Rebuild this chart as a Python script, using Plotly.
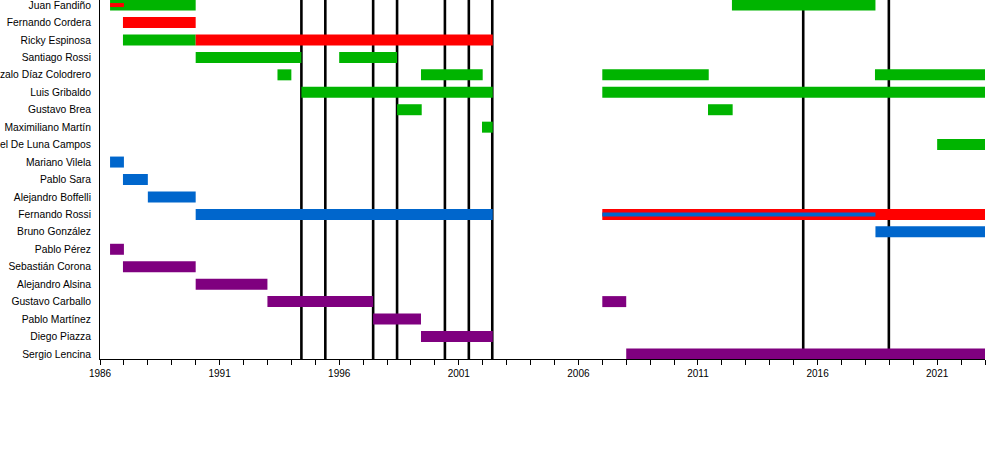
import plotly.graph_objects as go

members = [
    "Juan Fandiño", "Fernando Cordera", "Ricky Espinosa", "Santiago Rossi",
    "Gonzalo Díaz Colodrero", "Luis Gribaldo", "Gustavo Brea", "Maximiliano Martín",
    "Manuel De Luna Campos", "Mariano Vilela", "Pablo Sara", "Alejandro Boffelli",
    "Fernando Rossi", "Bruno González", "Pablo Pérez", "Sebastián Corona",
    "Alejandro Alsina", "Gustavo Carballo", "Pablo Martínez", "Diego Piazza",
    "Sergio Lencina",
]

# (member, role, start, end)
periods = [
    ("Juan Fandiño", "guitar", 1986.42, 1990.0),
    ("Juan Fandiño", "guitar", 2012.42, 2018.42),
    ("Fernando Cordera", "vocals", 1986.96, 1990.0),
    ("Ricky Espinosa", "guitar", 1986.96, 1990.0),
    ("Ricky Espinosa", "vocals", 1990.0, 2002.42),
    ("Santiago Rossi", "guitar", 1990.0, 1994.42),
    ("Santiago Rossi", "guitar", 1996.0, 1998.42),
    ("Gonzalo Díaz Colodrero", "guitar", 1993.42, 1994.0),
    ("Gonzalo Díaz Colodrero", "guitar", 1999.42, 2002.0),
    ("Gonzalo Díaz Colodrero", "guitar", 2007.0, 2011.45),
    ("Gonzalo Díaz Colodrero", "guitar", 2018.4, 2023.0),
    ("Luis Gribaldo", "guitar", 1994.42, 2002.42),
    ("Luis Gribaldo", "guitar", 2007.0, 2023.0),
    ("Gustavo Brea", "guitar", 1998.42, 1999.45),
    ("Gustavo Brea", "guitar", 2011.42, 2012.45),
    ("Maximiliano Martín", "guitar", 2001.97, 2002.42),
    ("Manuel De Luna Campos", "guitar", 2021.0, 2023.0),
    ("Mariano Vilela", "bass", 1986.42, 1987.0),
    ("Pablo Sara", "bass", 1986.96, 1988.0),
    ("Alejandro Boffelli", "bass", 1988.0, 1990.0),
    ("Fernando Rossi", "bass", 1990.0, 2002.42),
    ("Fernando Rossi", "vocals", 2007.0, 2023.0),
    ("Bruno González", "bass", 2018.42, 2023.0),
    ("Pablo Pérez", "drums", 1986.42, 1987.0),
    ("Sebastián Corona", "drums", 1986.96, 1990.0),
    ("Alejandro Alsina", "drums", 1990.0, 1993.0),
    ("Gustavo Carballo", "drums", 1993.0, 1997.42),
    ("Gustavo Carballo", "drums", 2007.0, 2008.0),
    ("Pablo Martínez", "drums", 1997.42, 1999.42),
    ("Diego Piazza", "drums", 1999.42, 2002.42),
    ("Sergio Lencina", "drums", 2008.0, 2023.0),
]

# thin secondary-role bars drawn on top
extras = [
    ("Juan Fandiño", "vocals", 1986.42, 1987.0),
    ("Fernando Rossi", "bass", 2007.0, 2018.42),
]

albums = [1994.42, 1995.42, 1997.42, 1998.42, 2000.42, 2001.42, 2002.4, 2015.4, 2018.98]

role_colors = {"vocals": "#FF0000", "guitar": "#00B400", "bass": "#0066CC", "drums": "#7F007F"}

row = {m: i for i, m in enumerate(members)}


def bar_trace(items, width):
    return go.Bar(
        orientation="h",
        y=[row[m] for m, _, _, _ in items],
        base=[s for _, _, s, _ in items],
        x=[e - s for _, _, s, e in items],
        marker=dict(color=[role_colors[r] for _, r, _, _ in items], line=dict(width=0)),
        width=width,
        hoverinfo="skip",
        showlegend=False,
    )


fig = go.Figure([bar_trace(periods, 0.63), bar_trace(extras, 0.23)])
fig.update_layout(barmode="overlay")

for a in albums:
    fig.add_shape(type="line", xref="x", yref="paper", x0=a, x1=a, y0=0, y1=1,
                  line=dict(color="black", width=2.6), layer="below")

fig.update_xaxes(
    range=[1986, 2023],
    tickvals=list(range(1986, 2024, 5)),
    ticks="outside", ticklen=5, tickcolor="black", tickwidth=1,
    minor=dict(dtick=1, tick0=1986, ticks="outside", ticklen=5, tickcolor="black", tickwidth=1),
    showgrid=False, zeroline=False,
    showline=True, linecolor="black", linewidth=1,
    tickfont=dict(family="Liberation Sans, Arial, sans-serif", size=10, color="black"),
)
fig.update_yaxes(
    range=[20.29, -0.29],
    tickvals=list(range(len(members))),
    ticktext=members,
    showgrid=False, zeroline=False,
    showline=True, linecolor="black", linewidth=1,
    ticks="", ticklabelstandoff=6, ticklabeloverflow="allow",
    tickfont=dict(family="Liberation Sans, Arial, sans-serif", size=10.3, color="black"),
)
fig.update_layout(
    width=1000, height=458,
    margin=dict(l=100, r=15, t=0, b=99, autoexpand=False),
    plot_bgcolor="white", paper_bgcolor="white",
)
fig.write_html("out.html", config={"displayModeBar": False},
               post_script="document.body.style.margin='0';")
